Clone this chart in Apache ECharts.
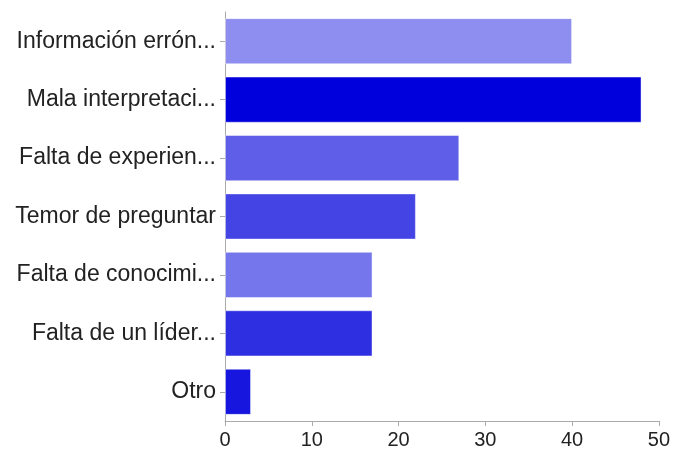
<!DOCTYPE html>
<html>
<head>
<meta charset="utf-8">
<script src="https://cdn.jsdelivr.net/npm/echarts@6/dist/echarts.min.js"></script>
<style>html,body{margin:0;padding:0;background:#fff}#c{width:673px;height:453px}</style>
</head>
<body>
<div id="c"></div>
<script>
var categories = ["Información errón...", "Mala interpretaci...", "Falta de experien...", "Temor de preguntar", "Falta de conocimi...", "Falta de un líder...", "Otro"];
var values = [40, 48, 27, 22, 17, 17, 3];
var colors = ["#8e8ef0", "#0000dd", "#5e5ee8", "#4444e4", "#7575ec", "#2f2fe2", "#1616de"];
var xTicks = [0, 10, 20, 30, 40, 50];

var chart = echarts.init(document.getElementById('c'), null, {renderer: 'canvas'});
chart.setOption({
  animation: false,
  backgroundColor: '#fff',
  grid: {left: 225, right: 14, top: 12, bottom: 32, containLabel: false},
  xAxis: {
    type: 'value', min: 0, max: 50, interval: 10,
    axisLine: {show: true, lineStyle: {color: '#aaa', width: 1}},
    axisTick: {show: true, length: 5, lineStyle: {color: '#aaa'}},
    splitLine: {show: false},
    axisLabel: {color: '#222', fontSize: 20, fontFamily: 'Liberation Sans, Arial, sans-serif', margin: 9,
      formatter: function (v) { return xTicks.indexOf(v) >= 0 ? String(v) : ''; }}
  },
  yAxis: {
    type: 'category', data: categories, inverse: true,
    axisLine: {show: true, lineStyle: {color: '#aaa', width: 1}},
    axisTick: {show: true, alignWithLabel: true, length: 5, lineStyle: {color: '#aaa'}},
    axisLabel: {color: '#222', fontSize: 23, fontFamily: 'Liberation Sans, Arial, sans-serif', margin: 9, padding: [3, 0, 0, 0]}
  },
  series: [{
    type: 'bar',
    data: values.map(function (v, i) { return {value: v, itemStyle: {color: colors[i]}}; }),
    barCategoryGap: '21%',
    itemStyle: {borderColor: 'rgba(255,255,255,0.45)', borderWidth: 1}
  }]
});
</script>
</body>
</html>
